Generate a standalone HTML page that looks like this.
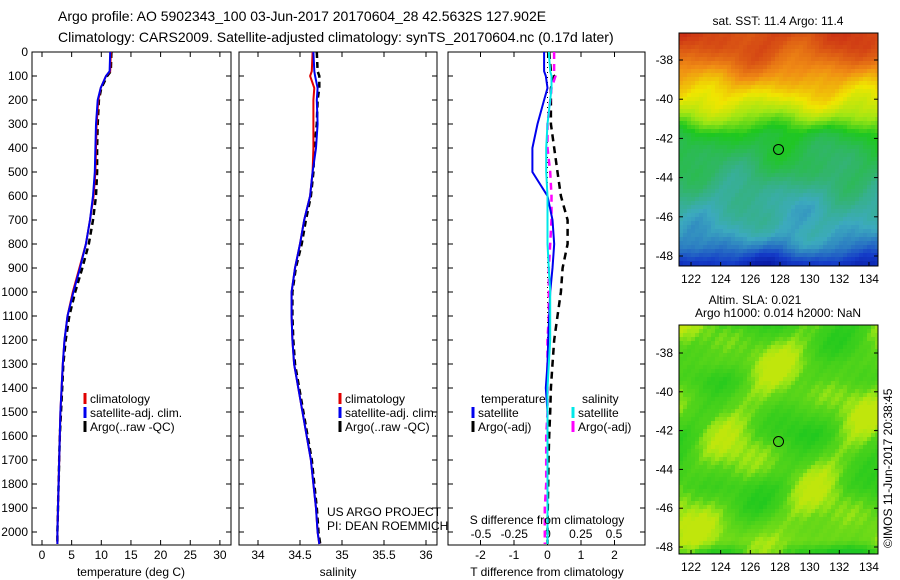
<!DOCTYPE html>
<html><head><meta charset="utf-8"><style>
body{margin:0;background:#fff;width:900px;height:580px;overflow:hidden}
svg{display:block;font-family:"Liberation Sans",sans-serif}
text{font-size:12px;fill:#000}
</style></head><body>
<svg id="s" width="900" height="580" viewBox="0 0 900 580">
<text x="58" y="21" style="font-size:14px">Argo profile: AO 5902343_100 03-Jun-2017 20170604_28 42.5632S 127.902E</text>
<text x="58" y="42" style="font-size:14px">Climatology: CARS2009. Satellite-adjusted climatology: synTS_20170604.nc (0.17d later)</text>
<g id="maps"></g>
<g id="plots"></g>
</svg>
<script>
// ---- data ----
const depths=[0,80,100,150,200,300,400,500,600,700,800,900,1000,1100,1200,1300,1400,1500,1600,1700,1800,1900,2000,2050];
const tempClim=[11.6,11.5,10.8,9.9,9.5,9.2,9.1,9.0,8.7,8.1,7.4,6.3,5.2,4.3,3.8,3.5,3.3,3.1,3.0,2.9,2.8,2.7,2.6,2.6];
const tempSat =[11.5,11.4,10.8,9.9,9.4,9.1,9.0,8.9,8.6,8.1,7.4,6.4,5.3,4.3,3.8,3.5,3.3,3.1,3.0,2.9,2.8,2.7,2.6,2.6];
const tempArgo=[11.7,11.6,11.0,10.0,9.6,9.4,9.3,9.3,9.1,8.6,7.9,6.8,5.6,4.6,4.0,3.6,3.4,3.2,3.0,2.9,2.8,2.7,2.6,2.6];
const salClim=[34.65,34.64,34.62,34.67,34.66,34.66,34.66,34.65,34.62,34.55,34.50,34.44,34.40,34.40,34.41,34.43,34.48,34.53,34.58,34.63,34.66,34.69,34.71,34.73];
const salSat =[34.66,34.67,34.68,34.71,34.70,34.71,34.69,34.65,34.62,34.55,34.50,34.44,34.40,34.40,34.41,34.43,34.48,34.53,34.58,34.63,34.66,34.69,34.71,34.73];
const salArgo=[34.70,34.71,34.73,34.73,34.71,34.70,34.67,34.66,34.63,34.57,34.52,34.45,34.41,34.41,34.42,34.44,34.49,34.54,34.59,34.64,34.67,34.70,34.72,34.74];
const tDiffSat =[-0.1,-0.1,-0.05,0.0,-0.1,-0.3,-0.45,-0.45,0.0,0.15,0.2,0.15,0.08,0.05,0.02,0.0,-0.05,0.0,0.0,0.0,0.0,0.0,0.0,0.0];
const tDiffArgo=[0.05,0.1,0.2,0.1,0.1,0.1,0.2,0.3,0.4,0.6,0.6,0.45,0.4,0.3,0.2,0.15,0.1,0.08,0.05,0.03,0.02,0.01,0.0,0.0];
const sDiffSat =[0.01,0.02,0.03,0.03,0.02,0.0,-0.01,-0.01,0.0,0.0,0.0,0.01,0.02,0.02,0.02,0.01,0.0,0.0,0.0,0.0,0.0,0.0,0.0,0.0];
const sDiffArgo=[0.05,0.05,0.06,0.03,0.02,0.0,0.0,0.02,0.03,0.03,0.02,0.01,0.01,0.01,0.0,0.0,0.0,0.0,-0.01,-0.01,-0.01,-0.02,-0.02,-0.02];
const depthTicks=[0,100,200,300,400,500,600,700,800,900,1000,1100,1200,1300,1400,1500,1600,1700,1800,1900,2000];
const tempTicks=[0,5,10,15,20,25,30];
const salTicks=[34,34.5,35,35.5,36];
const tdTicks=[-2,-1,0,1,2];
const sdTicks=[-0.5,-0.25,0,0.25,0.5];
const latTicks=[-38,-40,-42,-44,-46,-48];
const lonTicks=[122,124,126,128,130,132,134];
const sstBands=[0.94,0.92,0.88,0.82,0.76,0.7,0.64,0.56,0.48,0.45,0.43,0.41,0.38,0.35,0.33,0.32,0.3,0.25,0.16,0.06];
const slaBands=[0.53,0.54,0.55,0.54,0.55,0.54,0.53,0.54,0.54,0.53,0.54,0.56,0.57,0.48];

const NS='http://www.w3.org/2000/svg';
const plots=document.getElementById('plots'),maps=document.getElementById('maps');
function mk(tag,at,par){const e=document.createElementNS(NS,tag);for(const k in at)e.setAttribute(k,at[k]);(par||plots).appendChild(e);return e;}
function txt(x,y,s,anchor,par,size){const t=mk('text',{x:x,y:y,'text-anchor':anchor||'start'},par);if(size)t.style.fontSize=size+'px';t.textContent=s;return t;}
const Y0=52,Y1=545;
const yD=d=>Y0+d*(24/100);

function panel(x0,x1,name){
  const g=mk('g',{});
  
  
  mk('rect',{x:x0,y:Y0,width:x1-x0,height:Y1-Y0,fill:'none',stroke:'#000','stroke-width':1},g);
  return g;
}
function xticks(g,ticks,fx,labY){
  ticks.forEach(t=>{const x=fx(t);
    mk('line',{x1:x,x2:x,y1:Y0,y2:Y0+5,stroke:'#000'},g);
    mk('line',{x1:x,x2:x,y1:Y1,y2:Y1-5,stroke:'#000'},g);
    const l=txt(x,labY,String(t),'middle',g);
    
    
  });
}
function line(g,xs,fx,color,w,dash,name){
  const pts=xs.map((v,i)=>fx(v).toFixed(1)+','+yD(depths[i]).toFixed(1)).join(' ');
  const p=mk('polyline',{points:pts,fill:'none',stroke:color,'stroke-width':w},g);
  if(dash)p.setAttribute('stroke-dasharray',dash);
  
  
}
function legend(g,x,y,items){
  items.forEach((it,i)=>{
    const yy=y+i*14;
    mk('line',{x1:x,x2:x,y1:yy-10,y2:yy+1,stroke:it[0],'stroke-width':3},g);
    const t=txt(x+5,yy,it[1],'start',g);
    
    
  });
}

// Panel 1 temperature
const fT=v=>42+v*5.93;
const p1=panel(32,231,'temperature-panel');
depthTicks.forEach(d=>{const y=yD(d);
  mk('line',{x1:32,x2:37,y1:y,y2:y,stroke:'#000'},p1);mk('line',{x1:231,x2:226,y1:y,y2:y,stroke:'#000'},p1);
  const l=txt(28,y+4,String(d),'end',p1);
  
  
});
xticks(p1,tempTicks,fT,Y1+14);
line(p1,tempArgo,fT,'#000',2.5,'6,4','temp-argo-line');
line(p1,tempClim,fT,'#e00000',2,null,'temp-clim-line');
line(p1,tempSat,fT,'#0000ee',2,null,'temp-sat-line');
legend(p1,85,403,[['#e00000','climatology'],['#0000ee','satellite-adj. clim.'],['#000','Argo(..raw -QC)']]);
txt(131,576,'temperature (deg C)','middle',p1);

// Panel 2 salinity
const fS=v=>258+(v-34)*84;
const p2=panel(239,437,'salinity-panel');
depthTicks.forEach(d=>{const y=yD(d);mk('line',{x1:239,x2:244,y1:y,y2:y,stroke:'#000'},p2);mk('line',{x1:437,x2:432,y1:y,y2:y,stroke:'#000'},p2);});
xticks(p2,salTicks,fS,Y1+14);
line(p2,salArgo,fS,'#000',2.5,'6,4','sal-argo-line');
line(p2,salClim,fS,'#e00000',2,null,'sal-clim-line');
line(p2,salSat,fS,'#0000ee',2,null,'sal-sat-line');
legend(p2,340,403,[['#e00000','climatology'],['#0000ee','satellite-adj. clim.'],['#000','Argo(..raw -QC)']]);
txt(327,516,'US ARGO PROJECT','start',p2);
txt(327,530,'PI: DEAN ROEMMICH','start',p2);
txt(338,576,'salinity','middle',p2);

// Panel 3 differences
const fTd=v=>547.5+v*33.5, fSd=v=>547.5+v*133;
const p3=panel(448,645,'difference-panel');
depthTicks.forEach(d=>{const y=yD(d);mk('line',{x1:448,x2:453,y1:y,y2:y,stroke:'#000'},p3);mk('line',{x1:645,x2:640,y1:y,y2:y,stroke:'#000'},p3);});
xticks(p3,tdTicks,fTd,Y1+14);
sdTicks.forEach(t=>{const l=txt(fSd(t),538,String(t),'middle',p3);});
mk('line',{x1:fTd(0),x2:fTd(0),y1:Y0,y2:Y1,stroke:'#000','stroke-dasharray':'1,4'},p3);
line(p3,tDiffArgo,fTd,'#000',2.5,'7,5','tdiff-argo-line');
line(p3,sDiffArgo,fSd,'#ff00ff',2.5,'7,5','sdiff-argo-line');
line(p3,tDiffSat,fTd,'#0000ee',2,null,'tdiff-sat-line');
line(p3,sDiffSat,fSd,'#00e8e8',2,null,'sdiff-sat-line');
txt(481,403,'temperature','start',p3);txt(582,403,'salinity','start',p3);
legend(p3,473,417,[['#0000ee','satellite'],['#000','Argo(-adj)']]);
legend(p3,573,417,[['#00e8e8','satellite'],['#ff00ff','Argo(-adj)']]);
txt(547,524,'S difference from climatology','middle',p3);
txt(547,576,'T difference from climatology','middle',p3);

// ---- maps ----
function jet(v){
  const stops=[[0,[0,0,140]],[0.15,[20,60,200]],[0.3,[60,170,190]],[0.4,[50,180,110]],[0.5,[30,200,30]],[0.6,[160,230,20]],[0.7,[240,230,0]],[0.82,[240,140,20]],[1,[200,40,20]]];
  v=Math.max(0,Math.min(1,v));
  for(let i=1;i<stops.length;i++){if(v<=stops[i][0]){const a=stops[i-1],b=stops[i],f=(v-a[0])/(b[0]-a[0]);
    return 'rgb('+a[1].map((c,k)=>Math.round(c+(b[1][k]-c)*f)).join(',')+')';}}
  return 'rgb(200,40,20)';
}
function tex(i,j,s){
  return (Math.sin(i*0.37*s+j*0.21*s+1.3)+Math.sin(i*0.23*s-j*0.41*s+0.7)+Math.sin(i*0.61*s+j*0.53*s+2.1)*0.6+Math.sin(i*1.7+j*1.3)*0.25)/2.9;
}
function map(x0,y0,w,h,bands,wob,bias,sc,vmax,name,latY38,latY48){
  const g=mk('g',{},maps);
  
  
  const cs=4,nx=Math.ceil(w/cs),ny=Math.ceil(h/cs);
  for(let j=0;j<ny;j++)for(let i=0;i<nx;i++){
    const fy=j/ny*(bands.length-1),b0=Math.floor(fy),b1=Math.min(bands.length-1,b0+1);
    let v=bands[b0]+(bands[b1]-bands[b0])*(fy-b0);
    const n=tex(i,j,sc);
    v+=wob*n+(bias&&n>0.05?bias*(n-0.05):0);
    v=Math.min(v,vmax);
    mk('rect',{x:x0+i*cs,y:y0+j*cs,width:Math.min(cs,w-i*cs),height:Math.min(cs,h-j*cs),fill:jet(v)},g);
  }
  mk('rect',{x:x0,y:y0,width:w,height:h,fill:'none',stroke:'#000'},g);
  const fLat=l=>latY38+(-38-l)*(latY48-latY38)/10, fLon=l=>691+(l-122)*14.83;
  latTicks.forEach(l=>{const y=fLat(l);mk('line',{x1:x0,x2:x0+4,y1:y,y2:y,stroke:'#000'},g);mk('line',{x1:x0+w,x2:x0+w-4,y1:y,y2:y,stroke:'#000'},g);
    const t=txt(x0-6,y+4,String(l),'end',g);});
  lonTicks.forEach(l=>{const x=fLon(l);mk('line',{x1:x,x2:x,y1:y0+h,y2:y0+h-4,stroke:'#000'},g);
    const t=txt(x,y0+h+17,String(l),'middle',g);});
  const c=mk('circle',{cx:fLon(127.902),cy:fLat(-42.5632),r:5,fill:'none',stroke:'#000'},g);
  
  
}
map(679,33,199,233,sstBands,0.06,0,0.8,1,'sst-map',60,256);
map(679,325,199,229,slaBands,0.04,0.12,0.6,0.64,'sla-map',353,547);
txt(778,25,'sat. SST: 11.4 Argo: 11.4','middle',maps);
txt(755,304,'Altim. SLA: 0.021','middle',maps);
txt(778,317,'Argo h1000: 0.014 h2000: NaN','middle',maps);
const cr=txt(0,0,'©IMOS 11-Jun-2017 20:38:45','start',maps);
cr.setAttribute('transform','translate(892,548) rotate(-90)');

</script>
</body></html>
